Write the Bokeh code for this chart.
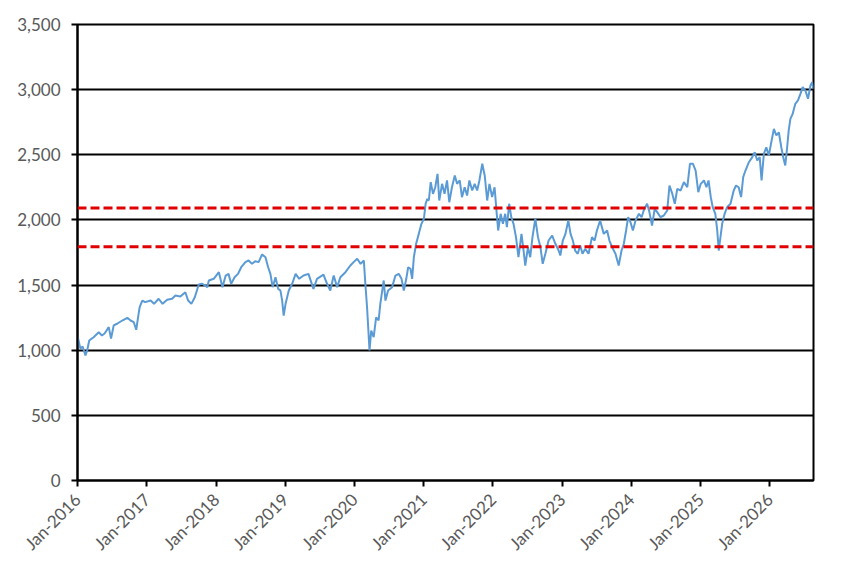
import pandas as pd
from bokeh.plotting import figure
from bokeh.models import (Range1d, FixedTicker, DatetimeTickFormatter,
                          NumeralTickFormatter, Span, ColumnDataSource)
from bokeh.embed import file_html
from bokeh.resources import INLINE
import math

dates = [
    "2016-01-01", "2016-01-16", "2016-01-28", "2016-02-12", "2016-02-21", "2016-03-03", "2016-03-26",
    "2016-04-22", "2016-05-09", "2016-05-23", "2016-06-14", "2016-06-26", "2016-07-10", "2016-07-28",
    "2016-08-24", "2016-09-20", "2016-10-07", "2016-10-24", "2016-11-06", "2016-11-17", "2016-11-24",
    "2016-12-08", "2016-12-23", "2017-01-21", "2017-02-08", "2017-03-04", "2017-03-25", "2017-04-18",
    "2017-05-14", "2017-06-01", "2017-06-27", "2017-07-23", "2017-08-07", "2017-08-24", "2017-09-11",
    "2017-10-02", "2017-10-20", "2017-11-16", "2017-11-24", "2017-12-20", "2018-01-16", "2018-02-04",
    "2018-02-21", "2018-03-08", "2018-03-22", "2018-04-09", "2018-04-27", "2018-05-14", "2018-06-05",
    "2018-06-22", "2018-07-10", "2018-07-27", "2018-08-14", "2018-09-01", "2018-09-19", "2018-10-03",
    "2018-10-15", "2018-10-27", "2018-11-11", "2018-11-25", "2018-12-07", "2018-12-16", "2018-12-24",
    "2019-01-03", "2019-01-20", "2019-02-07", "2019-02-25", "2019-03-16", "2019-04-08", "2019-05-04",
    "2019-05-30", "2019-06-18", "2019-07-14", "2019-07-22", "2019-08-10", "2019-08-27", "2019-09-14",
    "2019-10-02", "2019-10-19", "2019-11-15", "2019-12-11", "2019-12-28", "2020-01-16", "2020-02-03",
    "2020-02-20", "2020-02-28", "2020-03-08", "2020-03-16", "2020-03-21", "2020-03-30", "2020-04-12",
    "2020-04-25", "2020-05-08", "2020-05-17", "2020-06-04", "2020-06-13", "2020-06-27", "2020-07-18",
    "2020-08-05", "2020-08-22", "2020-09-06", "2020-09-18", "2020-10-01", "2020-10-11", "2020-10-23",
    "2020-11-01", "2020-11-10", "2020-11-22", "2020-12-06", "2020-12-20", "2021-01-02", "2021-01-11",
    "2021-01-20", "2021-01-28", "2021-02-07", "2021-02-19", "2021-03-03", "2021-03-15", "2021-03-24",
    "2021-04-08", "2021-04-21", "2021-05-04", "2021-05-16", "2021-05-30", "2021-06-14", "2021-06-26",
    "2021-07-10", "2021-07-22", "2021-08-05", "2021-08-18", "2021-08-30", "2021-09-14", "2021-09-27",
    "2021-10-10", "2021-10-22", "2021-11-06", "2021-11-19", "2021-12-02", "2021-12-14", "2021-12-28",
    "2022-01-10", "2022-01-20", "2022-01-29", "2022-02-11", "2022-02-23", "2022-03-07", "2022-03-16",
    "2022-03-28", "2022-04-08", "2022-04-20", "2022-05-03", "2022-05-16", "2022-06-01", "2022-06-12",
    "2022-06-21", "2022-07-05", "2022-07-17", "2022-07-29", "2022-08-13", "2022-08-27", "2022-09-09",
    "2022-09-21", "2022-10-05", "2022-10-22", "2022-11-10", "2022-11-27", "2022-12-14", "2022-12-23",
    "2023-01-05", "2023-01-19", "2023-02-03", "2023-02-15", "2023-02-27", "2023-03-11", "2023-03-25",
    "2023-04-07", "2023-04-19", "2023-05-03", "2023-05-21", "2023-06-08", "2023-06-22", "2023-07-04",
    "2023-07-21", "2023-08-09", "2023-08-27", "2023-09-08", "2023-09-22", "2023-10-10", "2023-10-27",
    "2023-11-11", "2023-11-23", "2023-12-05", "2023-12-16", "2023-12-28", "2024-01-10", "2024-01-24",
    "2024-02-11", "2024-02-25", "2024-03-07", "2024-03-25", "2024-04-06", "2024-04-20", "2024-05-04",
    "2024-05-17", "2024-06-04", "2024-06-21", "2024-07-09", "2024-07-21", "2024-08-05", "2024-08-18",
    "2024-08-31", "2024-09-18", "2024-10-05", "2024-10-23", "2024-11-06", "2024-11-22", "2024-12-06",
    "2024-12-20", "2025-01-02", "2025-01-19", "2025-02-01", "2025-02-12", "2025-02-24", "2025-03-06",
    "2025-03-20", "2025-03-30", "2025-04-07", "2025-04-16", "2025-04-25", "2025-05-08", "2025-05-21",
    "2025-06-08", "2025-06-25", "2025-07-07", "2025-07-21", "2025-08-03", "2025-08-14", "2025-08-26",
    "2025-09-13", "2025-10-01", "2025-10-14", "2025-10-27", "2025-11-09", "2025-11-19", "2025-12-01",
    "2025-12-14", "2025-12-27", "2026-01-11", "2026-01-23", "2026-02-05", "2026-02-18", "2026-03-03",
    "2026-03-15", "2026-03-24", "2026-04-03", "2026-04-11", "2026-04-20", "2026-05-02", "2026-05-16",
    "2026-05-30", "2026-06-12", "2026-06-24", "2026-07-08", "2026-07-22", "2026-08-04", "2026-08-13",
    "2026-08-20",
]

values = [
    1110, 1013, 1028, 959, 998, 1075, 1100,
    1138, 1113, 1128, 1177, 1090, 1190, 1203,
    1228, 1249, 1228, 1215, 1157, 1266, 1330,
    1381, 1369, 1381, 1356, 1395, 1356, 1387,
    1395, 1420, 1412, 1445, 1381, 1356, 1407,
    1504, 1510, 1484, 1535, 1548, 1599, 1484,
    1573, 1586, 1510, 1560, 1586, 1637, 1676,
    1689, 1663, 1683, 1676, 1735, 1714, 1637,
    1586, 1484, 1560, 1471, 1458, 1381, 1266,
    1356, 1458, 1510, 1586, 1548, 1573, 1586,
    1471, 1548, 1573, 1581, 1510, 1458, 1573,
    1484, 1560, 1599, 1650, 1676, 1702, 1663,
    1689, 1510, 1330, 1126, 998, 1151, 1100,
    1253, 1228, 1356, 1535, 1381, 1458, 1484,
    1573, 1586, 1548, 1458, 1548, 1637, 1625,
    1548, 1714, 1817, 1893, 1970, 2009, 2124,
    2162, 2149, 2290, 2200, 2251, 2354, 2149,
    2277, 2200, 2303, 2136, 2251, 2341, 2277,
    2303, 2175, 2251, 2187, 2303, 2226, 2277,
    2226, 2303, 2431, 2341, 2149, 2277, 2175,
    2251, 2072, 1919, 2047, 1970, 2047, 1944,
    2124, 2021, 1970, 1868, 1714, 1893, 1765,
    1650, 1791, 1714, 1868, 2009, 1868, 1791,
    1663, 1740, 1842, 1880, 1817, 1765, 1727,
    1842, 1893, 1996, 1893, 1842, 1765, 1740,
    1804, 1740, 1778, 1740, 1868, 1842, 1919,
    1996, 1893, 1919, 1842, 1791, 1740, 1650,
    1765, 1817, 1919, 2021, 1983, 1919, 1996,
    2047, 2021, 2072, 2124, 2060, 1957, 2085,
    2060, 2021, 2034, 2072, 2264, 2200, 2124,
    2239, 2226, 2290, 2251, 2431, 2431, 2379,
    2213, 2277, 2303, 2251, 2303, 2175, 2098,
    2047, 1919, 1765, 1868, 1970, 2047, 2098,
    2124, 2226, 2264, 2251, 2175, 2328, 2379,
    2443, 2482, 2520, 2456, 2482, 2303, 2507,
    2558, 2494, 2610, 2699, 2648, 2673, 2558,
    2469, 2418, 2558, 2686, 2776, 2814, 2891,
    2917, 2968, 3019, 2993, 2930, 3032, 3057,
    3006,
]

band_upper = 2092
band_lower = 1795

y_ticks = [0, 500, 1000, 1500, 2000, 2500, 3000, 3500]
x_tick_dates = ["2016-01-01", "2017-01-01", "2018-01-01", "2019-01-01", "2020-01-01",
                "2021-01-01", "2022-01-01", "2023-01-01", "2024-01-01", "2025-01-01",
                "2026-01-01"]
x_start = "2016-01-01"
x_end = "2026-08-20"

src = ColumnDataSource(dict(date=pd.to_datetime(dates), value=values))

def ms(d):
    return pd.Timestamp(d).value / 1e6

p = figure(frame_width=736, frame_height=456, output_backend="svg", toolbar_location=None,
           x_axis_type="datetime",
           x_range=Range1d(ms(x_start), ms(x_end)),
           y_range=Range1d(0, 3500),
           min_border_left=77, min_border_right=25, min_border_top=24, min_border_bottom=78)

p.background_fill_color = "white"
p.border_fill_color = "white"
p.outline_line_color = "black"
p.outline_line_width = 2

p.line("date", "value", source=src, line_color="#5B9BD5", line_width=2)

for loc in (band_upper, band_lower):
    p.add_layout(Span(location=loc, dimension="width", line_color="#E00000",
                      line_width=3, line_dash="9 4"))

p.xgrid.visible = False
p.ygrid.grid_line_color = "black"
p.ygrid.grid_line_width = 2
p.ygrid.ticker = FixedTicker(ticks=y_ticks)

p.yaxis.ticker = FixedTicker(ticks=y_ticks)
p.yaxis.formatter = NumeralTickFormatter(format="0,0")
p.xaxis.ticker = FixedTicker(ticks=[ms(d) for d in x_tick_dates])
fmt = "%b-%Y"
p.xaxis.formatter = DatetimeTickFormatter(years=fmt, months=fmt, days=fmt, hours=fmt,
                                          minutes=fmt, seconds=fmt, milliseconds=fmt,
                                          microseconds=fmt, minsec=fmt, hourmin=fmt)
p.xaxis.major_label_orientation = math.pi / 4

for ax in (p.xaxis, p.yaxis):
    ax.axis_line_color = "black"
    ax.axis_line_width = 2
    ax.major_tick_line_color = "black"
    ax.major_tick_line_width = 2
    ax.major_tick_out = 6
    ax.major_tick_in = 0
    ax.minor_tick_line_color = None
    ax.major_label_text_font = "Lato"
    ax.major_label_text_font_size = "17px"
    ax.major_label_text_color = "#595959"

p.yaxis.major_label_standoff = 11
p.xaxis.major_label_standoff = 10

open("out.html", "w").write(file_html(p, INLINE))
